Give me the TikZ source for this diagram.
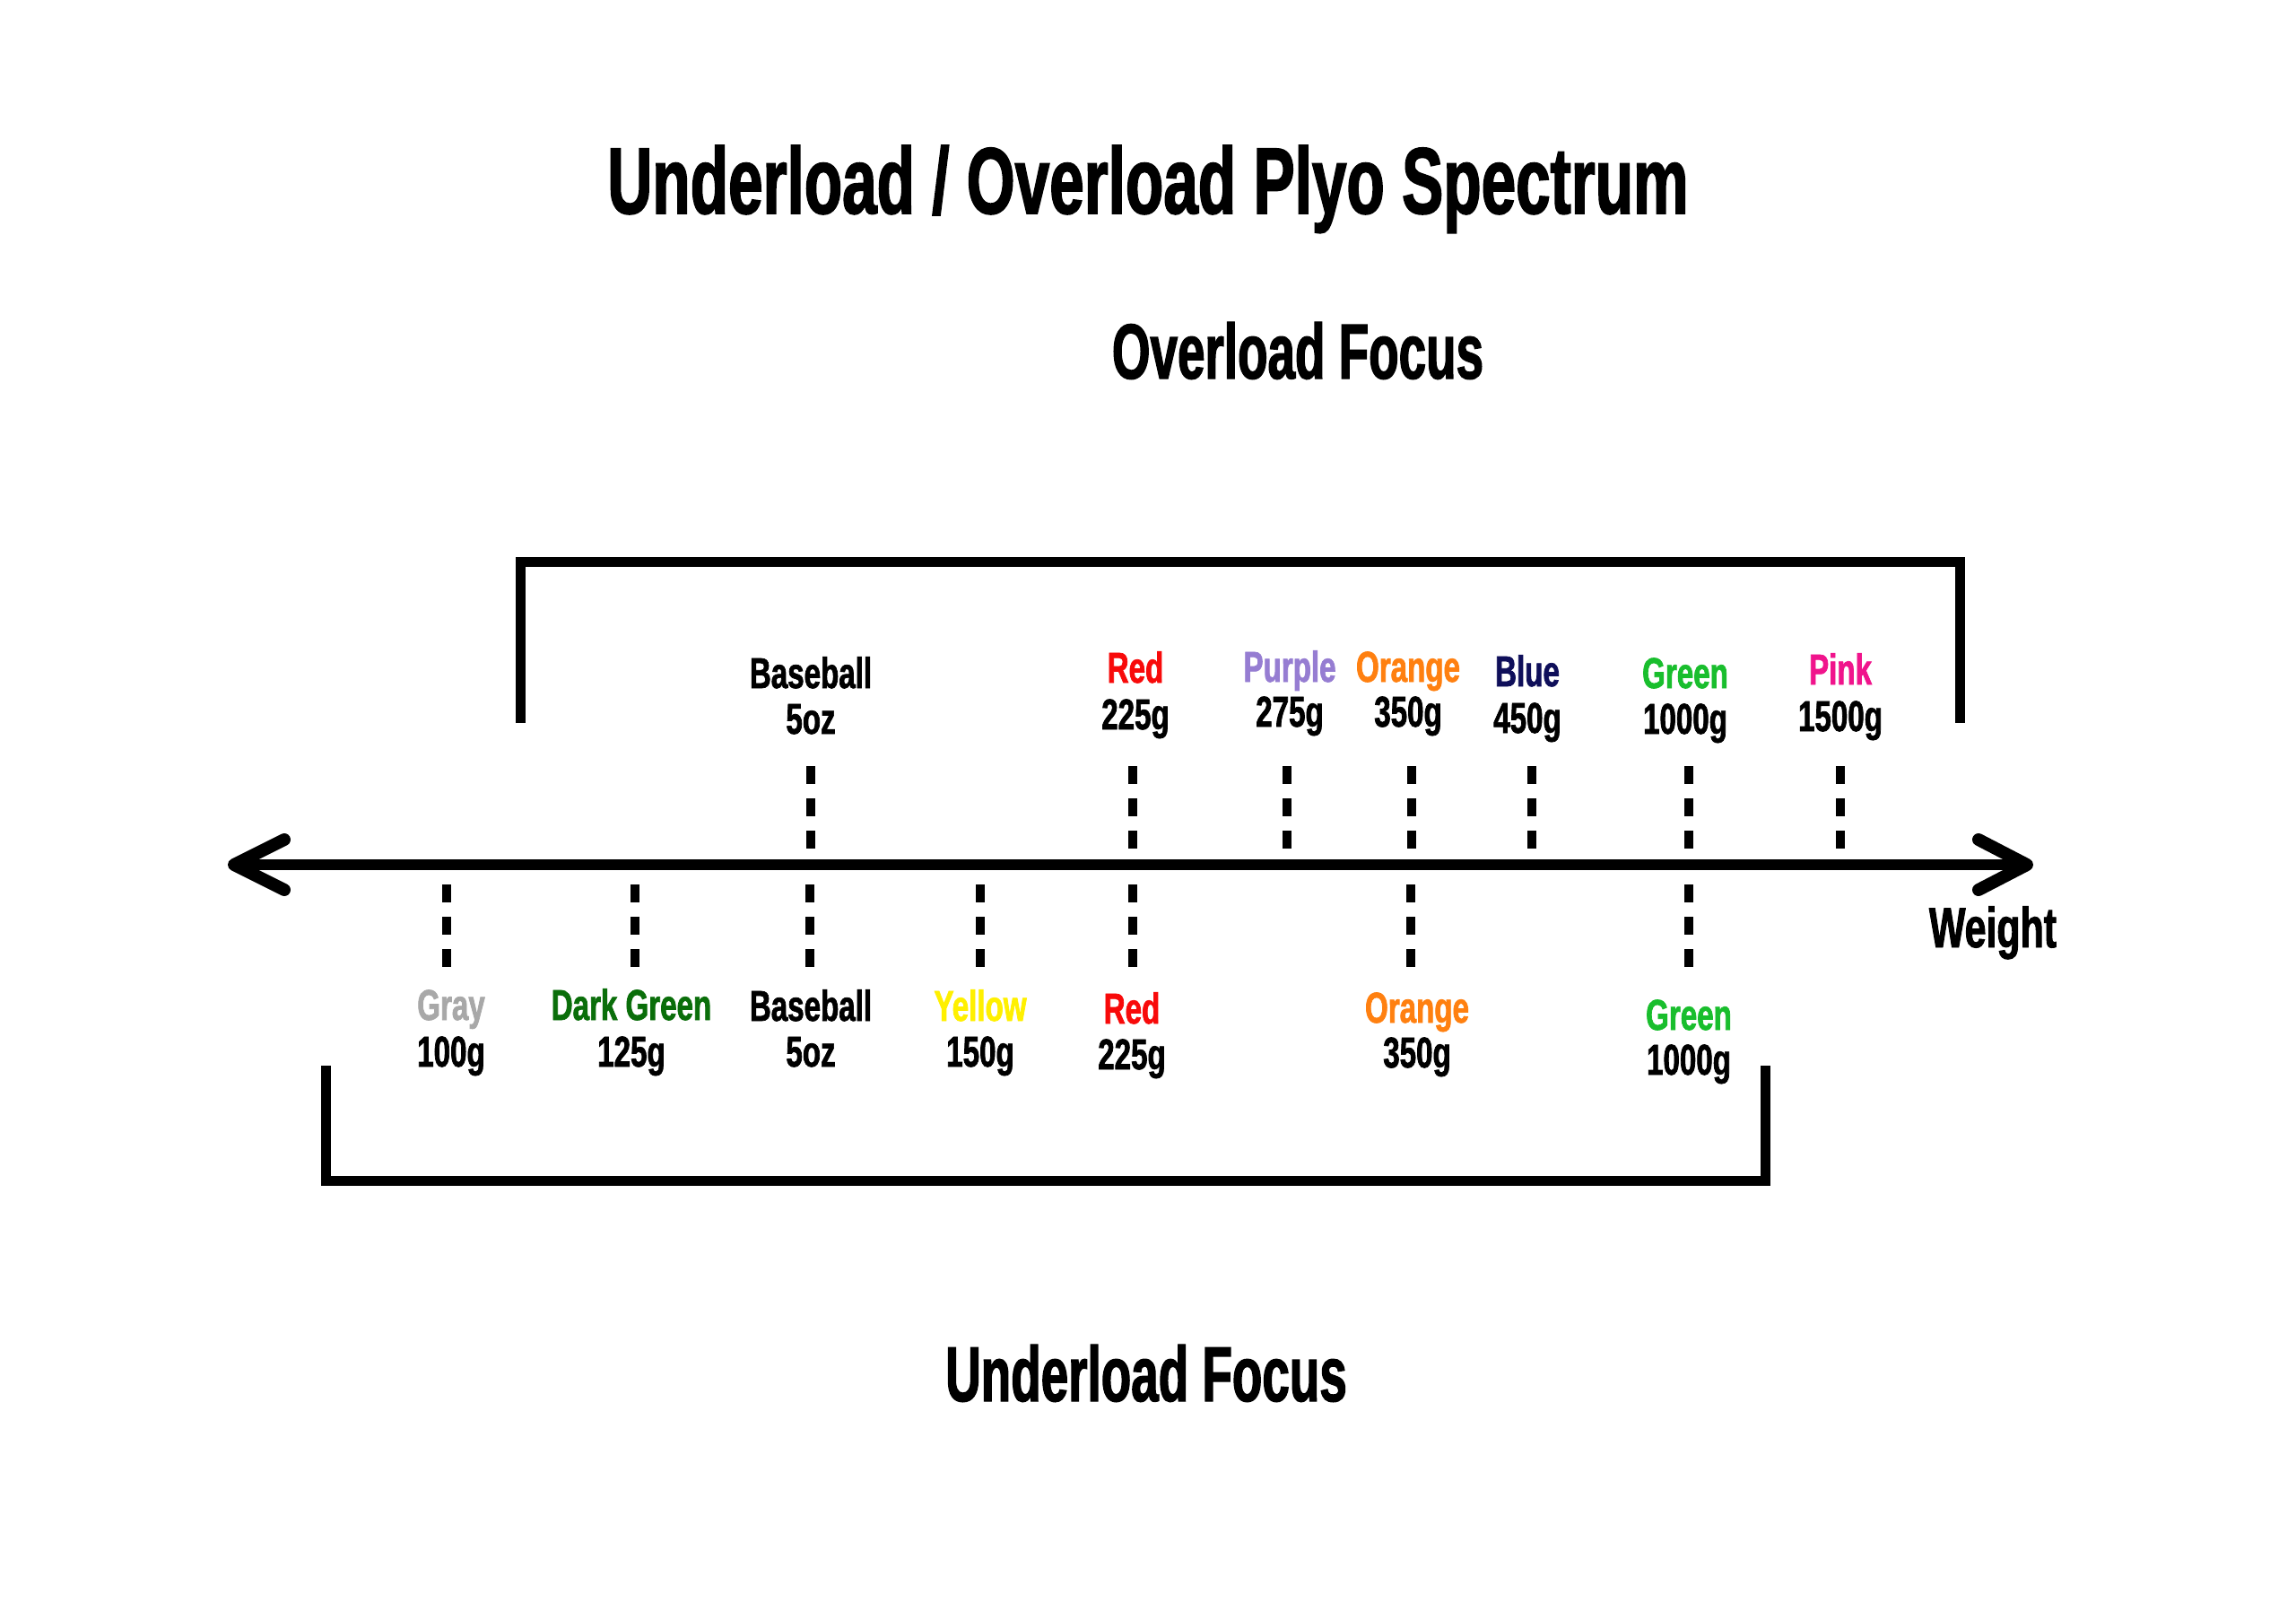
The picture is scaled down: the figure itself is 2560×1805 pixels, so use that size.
\documentclass[tikz,border=0pt]{standalone}
\usepackage{fontspec}
\newfontfamily\labfont{Liberation Sans}[FakeStretch=0.69, FakeBold=1.5]
\newfontfamily\titfont{Liberation Sans}[FakeStretch=0.66, FakeBold=1.5]
\newfontfamily\focfont{Liberation Sans}[FakeStretch=0.63, FakeBold=1.5]
\newfontfamily\wfont{Liberation Sans}[FakeStretch=0.68, FakeBold=1.5]
\definecolor{cgray}{HTML}{A8A8A8}
\definecolor{cdkgreen}{HTML}{0A6E0A}
\definecolor{cyellow}{HTML}{FFF000}
\definecolor{cred}{HTML}{F80A0A}
\definecolor{cpurple}{HTML}{967DD2}
\definecolor{corange}{HTML}{FF8010}
\definecolor{cblue}{HTML}{0F0F5A}
\definecolor{cgreen}{HTML}{19BE2D}
\definecolor{cpink}{HTML}{F0148C}
\tikzset{
  lab/.style={inner sep=0pt, anchor=base, font=\labfont\bfseries\fontsize{48}{52}\selectfont},
  titletext/.style={inner sep=0pt, anchor=base, font=\titfont\bfseries\fontsize{105}{110}\selectfont},
  focustext/.style={inner sep=0pt, anchor=base, font=\focfont\bfseries\fontsize{87}{90}\selectfont},
  weighttext/.style={inner sep=0pt, anchor=base, font=\wfont\bfseries\fontsize{63}{66}\selectfont},
  bracketline/.style={line width=11pt, line join=miter, line cap=butt},
  axisline/.style={line width=11.5pt},
  arrowarm/.style={line width=14pt, line cap=round, line join=round},
  dashline/.style={line width=10pt, dash pattern=on 20pt off 16pt},
}
\begin{document}
\begin{tikzpicture}[x=1pt, y=-1pt]
\useasboundingbox (0,0) rectangle (2560,1805);
\fill[white] (0,0) rectangle (2560,1805);

% titles
\node[titletext] (title) at (1280,238) {Underload / Overload Plyo Spectrum};
\node[focustext] (ofocus) at (1447,422) {Overload Focus};
\node[focustext] (ufocus) at (1278,1562) {Underload Focus};

% brackets
\coordinate (ob1) at (580,806);
\coordinate (ob2) at (580,626);
\coordinate (ob3) at (2185,626);
\coordinate (ob4) at (2185,806);
\draw[bracketline] (ob1) -- (ob2) -- (ob3) -- (ob4);
\coordinate (ub1) at (363,1188);
\coordinate (ub2) at (363,1316);
\coordinate (ub3) at (1968,1316);
\coordinate (ub4) at (1968,1188);
\draw[bracketline] (ub1) -- (ub2) -- (ub3) -- (ub4);

% axis
\coordinate (axL) at (262,964);
\coordinate (axR) at (2258,964);
\draw[axisline] (axL) -- (axR);
\coordinate (laU) at (317,936);
\coordinate (laD) at (317,992);
\coordinate (laT) at (261,964);
\draw[arrowarm] (laU) -- (laT) -- (laD);
\coordinate (raU) at (2206,936);
\coordinate (raD) at (2206,992);
\coordinate (raT) at (2260,964);
\draw[arrowarm] (raU) -- (raT) -- (raD);
\node[weighttext] (weight) at (2222,1056) {Weight};

% upper dashes
\foreach \x [count=\i] in {904,1263,1435,1574,1708,1883,2052}{
  \coordinate (ut\i) at (\x,854);
  \coordinate (ubt\i) at (\x,946);
  \draw[dashline] (ut\i) -- (ubt\i);
}
% lower dashes
\foreach \x [count=\i] in {498,708,903,1093,1263,1573,1883}{
  \coordinate (lt\i) at (\x,986);
  \coordinate (lbt\i) at (\x,1078);
  \draw[dashline] (lt\i) -- (lbt\i);
}

% upper labels
\node[lab] (uBase1) at (904,767) {Baseball};
\node[lab] (uBase2) at (904,818) {5oz};
\node[lab, text=cred] (uRed1) at (1266,761) {Red};
\node[lab] (uRed2) at (1266,813) {225g};
\node[lab, text=cpurple] (uPur1) at (1438,760) {Purple};
\node[lab] (uPur2) at (1438,810) {275g};
\node[lab, text=corange] (uOra1) at (1570,760) {Orange};
\node[lab] (uOra2) at (1570,810) {350g};
\node[lab, text=cblue] (uBlu1) at (1703,765) {Blue};
\node[lab] (uBlu2) at (1703,817) {450g};
\node[lab, text=cgreen] (uGre1) at (1879,767) {Green};
\node[lab] (uGre2) at (1879,818) {1000g};
\node[lab, text=cpink] (uPin1) at (2052,763) {Pink};
\node[lab] (uPin2) at (2052,815) {1500g};

% lower labels
\node[lab, text=cgray] (lGra1) at (503,1137) {Gray};
\node[lab] (lGra2) at (503,1189) {100g};
\node[lab, text=cdkgreen] (lDkg1) at (704,1137) {Dark Green};
\node[lab] (lDkg2) at (704,1189) {125g};
\node[lab] (lBase1) at (904,1138) {Baseball};
\node[lab] (lBase2) at (904,1189) {5oz};
\node[lab, text=cyellow] (lYel1) at (1093,1138) {Yellow};
\node[lab] (lYel2) at (1093,1189) {150g};
\node[lab, text=cred] (lRed1) at (1262,1141) {Red};
\node[lab] (lRed2) at (1262,1192) {225g};
\node[lab, text=corange] (lOra1) at (1580,1140) {Orange};
\node[lab] (lOra2) at (1580,1190) {350g};
\node[lab, text=cgreen] (lGre1) at (1883,1148) {Green};
\node[lab] (lGre2) at (1883,1198) {1000g};
\end{tikzpicture}
\end{document}
